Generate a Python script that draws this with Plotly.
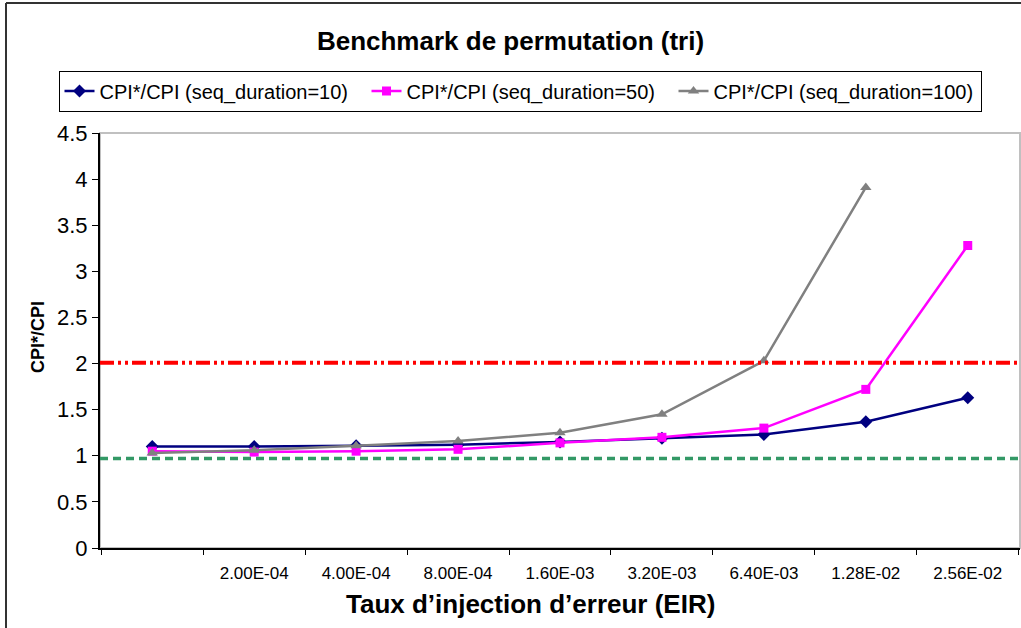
import plotly.graph_objects as go

# EIR categories (first one has no label on the original chart)
eir_labels = [" ", "2.00E-04", "4.00E-04", "8.00E-04", "1.60E-03",
              "3.20E-03", "6.40E-03", "1.28E-02", "2.56E-02"]

cpi_seq10 = [1.10, 1.10, 1.11, 1.12, 1.15, 1.19, 1.23, 1.37, 1.63]
cpi_seq50 = [1.05, 1.04, 1.05, 1.07, 1.14, 1.20, 1.30, 1.72, 3.28]
cpi_seq100 = [1.03, 1.06, 1.11, 1.16, 1.25, 1.45, 2.03, 3.91, None]

limit_high = 2.01
limit_low = 0.97

W, H = 1021, 628
ML, MR, MT, MB = 100, 1, 133, 80


def px_x(p):
    return (p - ML) / (W - ML - MR)


def px_y(p):
    return (H - MB - p) / (H - MT - MB)


fig = go.Figure()

series = [
    ("CPI*/CPI (seq_duration=10)", cpi_seq10, "#000080", "diamond", 10),
    ("CPI*/CPI (seq_duration=50)", cpi_seq50, "#ff00ff", "square", 9),
    ("CPI*/CPI (seq_duration=100)", cpi_seq100, "#808080", "triangle-up", 10),
]
for name, vals, col, sym, sz in series:
    fig.add_trace(go.Scatter(
        x=eir_labels, y=vals, name=name, mode="lines+markers",
        line=dict(color=col, width=2.5),
        marker=dict(symbol=sym, size=sz, color=col),
        connectgaps=False,
    ))

shapes = [
    # plot area frame (light grey top / right)
    dict(type="rect", xref="paper", yref="paper", x0=0, x1=1, y0=0, y1=1,
         line=dict(color="#c0c0c0", width=2), layer="below"),
    # threshold lines
    dict(type="line", xref="paper", yref="y", x0=0, x1=1, y0=limit_high, y1=limit_high,
         line=dict(color="#ff0000", width=4, dash="14px,4px,3px,4px,3px,4px")),
    dict(type="line", xref="paper", yref="y", x0=0, x1=1, y0=limit_low, y1=limit_low,
         line=dict(color="#339966", width=3.5, dash="8px,5px")),
    # outer chart frame (left and top)
    dict(type="line", xref="paper", yref="paper", x0=px_x(6), x1=px_x(6),
         y0=px_y(H + 5), y1=px_y(3), line=dict(color="#333333", width=2)),
    dict(type="line", xref="paper", yref="paper", x0=px_x(6), x1=px_x(W + 5),
         y0=px_y(3), y1=px_y(3), line=dict(color="#333333", width=2)),
]

annotations = [
    dict(text="<b>Taux d’injection d’erreur (EIR)</b>", xref="paper", yref="paper",
         x=px_x(530), y=px_y(604), xanchor="center", yanchor="middle",
         showarrow=False, font=dict(size=26)),
    dict(text="<b>CPI*/CPI</b>", xref="paper", yref="paper", textangle=-90,
         x=px_x(38), y=px_y(337), xanchor="center", yanchor="middle",
         showarrow=False, font=dict(size=18)),
]

fig.update_layout(
    width=W, height=H,
    margin=dict(l=ML, r=MR, t=MT, b=MB, autoexpand=False),
    paper_bgcolor="white", plot_bgcolor="white",
    font=dict(family="Liberation Sans, Arial, sans-serif", color="black"),
    title=dict(text="<b>Benchmark de permutation (tri)</b>", x=0.5, xanchor="center",
               y=1 - 41 / H, yanchor="middle", font=dict(size=26, color="black")),
    legend=dict(orientation="h", x=px_x(520), xanchor="center", y=px_y(91), yanchor="middle",
                bordercolor="black", borderwidth=1, bgcolor="white",
                font=dict(size=20), itemwidth=30, tracegroupgap=0,
                entrywidth=262, entrywidthmode="pixels"),
    shapes=shapes,
    annotations=annotations,
    showlegend=True,
)

fig.update_xaxes(
    type="category", tickson="boundaries", ticks="outside", ticklen=5,
    tickcolor="black", showline=True, linecolor="black", linewidth=2,
    showgrid=False, zeroline=False, tickfont=dict(size=17), automargin=False,
    ticklabelstandoff=9,
)
fig.update_yaxes(
    range=[0, 4.5], dtick=0.5, ticks="outside", ticklen=6, tickcolor="black",
    showline=True, linecolor="black", linewidth=2, showgrid=False, zeroline=False,
    tickfont=dict(size=22), automargin=False,
)

fig.write_html("out.html", config={"displayModeBar": False},
               post_script="document.body.style.margin='0';document.body.style.overflow='hidden';")
